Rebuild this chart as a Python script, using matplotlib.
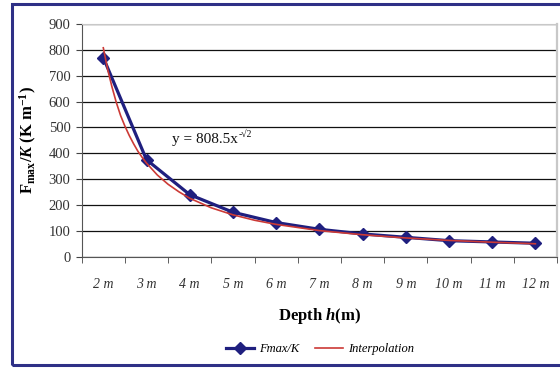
import matplotlib
matplotlib.use("Agg")
import matplotlib.pyplot as plt
from matplotlib.patches import Rectangle

categories = ["2 m", "3 m", "4 m", "5 m", "6 m", "7 m", "8 m", "9 m", "10 m", "11 m", "12 m"]
fmax_k = [770, 375, 240, 172, 132, 106, 88, 75, 62, 57, 52]
# interpolation curve read at category positions (1-based, as in the trendline)
interp_x = [1, 1.1, 1.2, 1.3, 1.4, 1.5, 1.6, 1.7, 1.8, 1.9, 2, 2.25, 2.5, 2.75, 3, 3.5, 4, 4.5, 5, 6, 7, 8, 9, 10, 11]
interp_y = [808, 725, 657, 597, 546, 505, 469, 437, 408, 384, 362, 316, 280, 251, 226, 189, 162, 141, 125, 101, 85, 72.5, 63, 56, 50]
yticks = [0, 100, 200, 300, 400, 500, 600, 700, 800, 900]

plt.rcParams['font.family'] = ['Liberation Serif', 'DejaVu Serif']
plt.rcParams['mathtext.fontset'] = 'custom'
plt.rcParams['mathtext.rm'] = 'Liberation Serif'
plt.rcParams['mathtext.it'] = 'Liberation Serif:italic'
plt.rcParams['mathtext.bf'] = 'Liberation Serif:bold'
plt.rcParams['mathtext.bfit'] = 'Liberation Serif:italic:bold'

fig = plt.figure(figsize=(5.6, 3.68), dpi=100)
fig.patches.append(Rectangle((12/560, 3/368), 560/560, 361/368, transform=fig.transFigure,
                             fill=False, edgecolor='#2E3086', linewidth=2.2, zorder=0))

ax = fig.add_axes([81.7/560, 1-256.7/368, (557-81.7)/560, (256.7-24)/368])
xs = list(range(len(categories)))
ax.plot(xs, fmax_k, color='#1F1F7F', lw=2.3, marker='D', markersize=6.5,
        markeredgecolor='#1F1F7F', markerfacecolor='#1F1F7F', label='Fmax/K', zorder=3)
ax.plot([v - 1 for v in interp_x], interp_y, color='#CC3A36', lw=1.2, label='Interpolation', zorder=4)

ax.set_xlim(-0.5, len(categories) - 0.5)
ax.set_ylim(0, 900)
ax.set_yticks(yticks)
ax.set_xticks(xs)
ax.set_xticklabels(categories, fontstyle='italic', fontsize=10, color='#333333')
ax.set_xticks([i - 0.5 for i in range(len(categories) + 1)], minor=True)
ax.tick_params(axis='x', which='major', length=0, pad=15)
ax.tick_params(axis='x', which='minor', length=4, direction='out', color='#444444')
ax.tick_params(axis='y', length=4, direction='out', pad=4, labelsize=10.5, labelcolor='#333333', color='#444444')

ax.yaxis.grid(True, color='#111111', lw=0.9)
ax.set_axisbelow(True)
ax.spines['top'].set_color('#c8c8c8')
ax.spines['right'].set_color('#c8c8c8')
ax.spines['right'].set_linewidth(1.6)
ax.spines['left'].set_color('#555555')
ax.spines['bottom'].set_color('#555555')

ax.set_xlabel(r'Depth $\mathbfit{h}$$\mathbf{(m)}$', fontsize=12, fontweight='bold', labelpad=11)
ax.set_ylabel(r'$\mathbf{F_{max}/}\mathbfit{K}\mathbf{\ (K\ m^{-1})}$', fontsize=12, labelpad=7)

ax.text(1.59, 452, 'y = 808.5x', fontsize=11, va='center', ha='left', color='#111111')
ax.annotate('-√2', xy=(1.59, 452), xytext=(48, 0.5), textcoords='offset points',
            fontsize=7, va='bottom', ha='left', color='#111111')

leg = fig.legend(loc='center', bbox_to_anchor=(320/560, 1-349/368), ncol=2, frameon=False,
                 prop={'family': 'Liberation Serif', 'style': 'italic', 'size': 9},
                 handlelength=2.3, columnspacing=1.2, handletextpad=0.4)

fig.savefig('out.png', dpi=100)
